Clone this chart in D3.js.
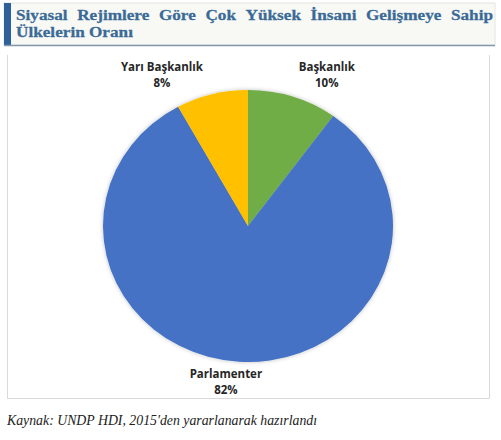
<!DOCTYPE html>
<html>
<head>
<meta charset="utf-8">
<script src="https://cdn.jsdelivr.net/npm/d3@7"></script>
<style>
  body { margin: 0; background: #fff; }
</style>
</head>
<body>
<script>
var w = 501, h = 440;

// data
var regimes = ['Başkanlık', 'Parlamenter', 'Yarı Başkanlık'];
var shares = [10, 82, 8];
var colors = ['#70ad47', '#4472c4', '#ffc000'];
var titleLines = ['Siyasal Rejimlere Göre Çok Yüksek İnsani Gelişmeye Sahip', 'Ülkelerin Oranı'];
var source = "Kaynak: UNDP HDI, 2015'den yararlanarak hazırlandı";

// label nudges away from the arc's outer mid point
var labelNudge = [[34, -19], [-13, 23], [-50, -16]];

var svg = d3.select('body').append('svg')
    .attr('width', w)
    .attr('height', h);

var defs = svg.append('defs');
var glow = defs.append('filter').attr('id', 'glow')
    .attr('x', '-10%').attr('y', '-10%').attr('width', '120%').attr('height', '120%');
glow.append('feDropShadow')
    .attr('dx', 0).attr('dy', 0)
    .attr('stdDeviation', 2)
    .attr('flood-color', '#000')
    .attr('flood-opacity', 0.25);

// title box
svg.append('rect')
    .attr('x', 4).attr('y', 3)
    .attr('width', 491).attr('height', 42)
    .attr('fill', '#f8f9f5')
    .attr('stroke', '#e4e6e2');
svg.append('rect')
    .attr('x', 4).attr('y', 3)
    .attr('width', 7).attr('height', 43)
    .attr('fill', '#2e6199');
svg.append('line')
    .attr('x1', 4).attr('x2', 495)
    .attr('y1', 45.5).attr('y2', 45.5)
    .attr('stroke', '#8497ad')
    .attr('stroke-width', 1.5);

var titleFont = { family: '"Liberation Serif", "DejaVu Serif", serif', size: 14.5 };
var left = 16, right = 493, line2Width = 117;

// measure line 2 to find a horizontal stretch matching the wider original face
var probe = svg.append('text')
    .attr('font-family', titleFont.family)
    .attr('font-size', titleFont.size)
    .attr('font-weight', 'bold')
    .text(titleLines[1]);
var sx = line2Width / probe.node().getComputedTextLength();
probe.remove();

titleLines.forEach(function(line, i) {
    var y = 20.5 + i * 16.5;
    var words = line.split(' ');
    var g = svg.append('g')
        .attr('transform', 'translate(' + left + ',0) scale(' + sx + ',1)');
    var texts = words.map(function(wd) {
        return g.append('text')
            .attr('y', y)
            .attr('font-family', titleFont.family)
            .attr('font-size', titleFont.size)
            .attr('font-weight', 'bold')
            .attr('fill', '#3b6a97')
            .attr('stroke', '#3b6a97')
            .attr('stroke-width', 0.25)
            .text(wd);
    });
    var widths = texts.map(function(t) { return t.node().getComputedTextLength(); });
    var total = d3.sum(widths);
    var span = (right - left) / sx;
    var gap = (i === 0) ? (span - total) / (words.length - 1) : titleFont.size * 0.25;
    var x = 0;
    texts.forEach(function(t, j) {
        t.attr('x', x);
        x += widths[j] + gap;
    });
});

// chart frame (no top edge)
svg.append('path')
    .attr('d', 'M7.5,55 V398.5 H489.5 V55')
    .attr('fill', 'none')
    .attr('stroke', '#d9d9d9');

// pie
var cx = 248, cy = 226, rx = 145, ry = 136;

var pie = d3.pie().sort(null).value(function(d) { return d; });
var arc = d3.arc().innerRadius(0).outerRadius(rx);
var arcs = pie(shares);

var pieG = svg.append('g')
    .attr('transform', 'translate(' + [cx, cy] + ') scale(1,' + (ry / rx) + ')')
    .attr('filter', 'url(#glow)');

pieG.selectAll('path')
    .data(arcs)
    .enter().append('path')
    .attr('d', arc)
    .attr('fill', function(d, i) { return colors[i]; });

// labels
var labels = svg.append('g')
    .attr('font-family', '"Open Sans", "Noto Sans", sans-serif')
    .attr('font-size', 11.5)
    .attr('font-weight', 'bold')
    .attr('fill', '#262626')
    .attr('text-anchor', 'middle');

arcs.forEach(function(d, i) {
    var a = (d.startAngle + d.endAngle) / 2;
    var x = cx + rx * Math.sin(a) + labelNudge[i][0];
    var y = cy - ry * Math.cos(a) + labelNudge[i][1];
    var t = labels.append('text').attr('x', x).attr('y', y);
    t.append('tspan').attr('x', x).attr('dy', '-0.6em').text(regimes[i]);
    t.append('tspan').attr('x', x).attr('dy', '1.38em').text(shares[i] + '%');
});

// source
svg.append('text')
    .attr('x', 7)
    .attr('y', 425)
    .attr('font-family', '"Liberation Serif", "Times New Roman", serif')
    .attr('font-style', 'italic')
    .attr('font-size', 13.8)
    .attr('fill', '#222')
    .text(source);
</script>
</body>
</html>
